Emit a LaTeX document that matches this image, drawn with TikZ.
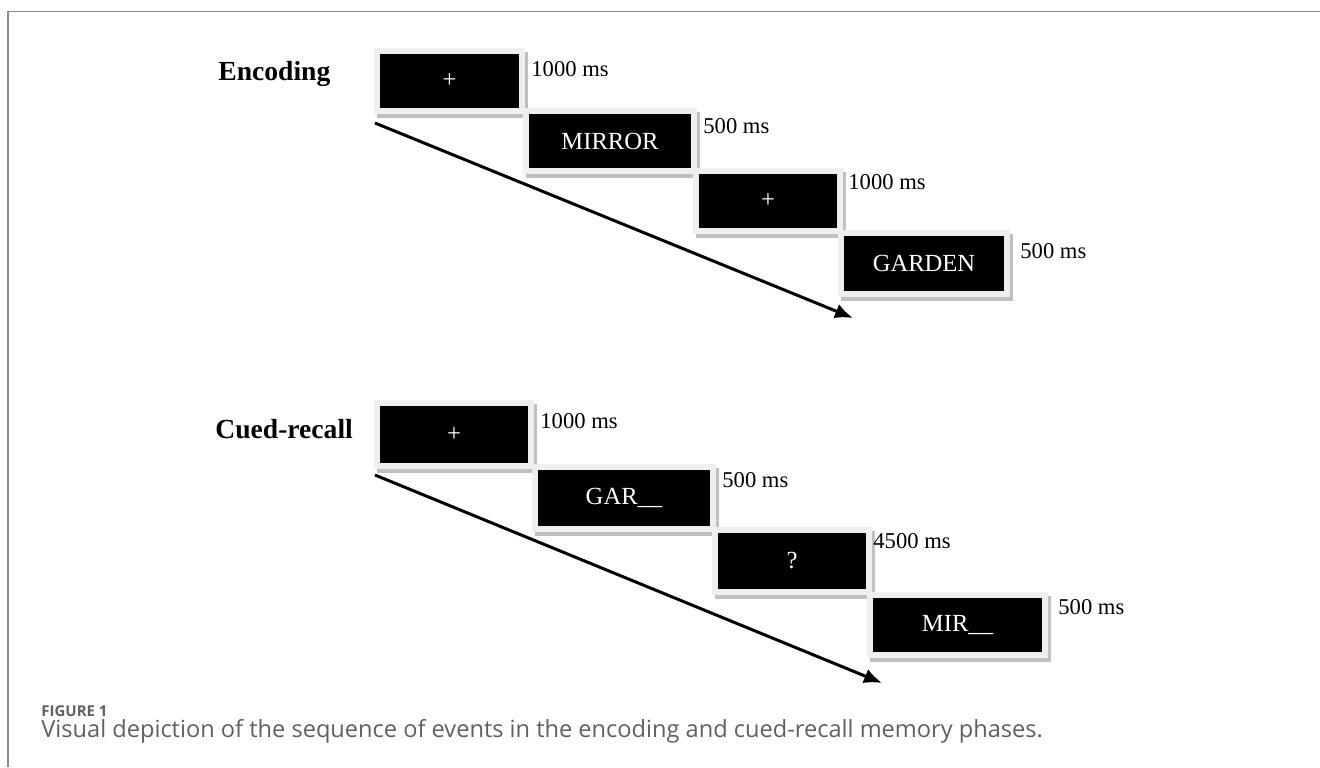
\documentclass[tikz,border=0pt]{standalone}
\usepackage{fontspec}
\setmainfont{Liberation Serif}
\newfontfamily\capfont{Open Sans}
\usetikzlibrary{positioning,arrows.meta,shadows}

\definecolor{framegray}{HTML}{EFEFEF}
\definecolor{shadowgray}{HTML}{C0C0C0}
\definecolor{rulegray}{HTML}{8A8A8A}
\definecolor{captext}{HTML}{606060}

\begin{document}
\begin{tikzpicture}[
  x=0.5pt, y=-0.5pt,
  screen/.style={rectangle, fill=black, draw=framegray, line width=3pt, text=white,
    inner sep=0pt, font=\fontsize{12.3}{14}\selectfont,
    drop shadow={shadow xshift=1.5pt, shadow yshift=-2pt, fill=shadowgray, draw=shadowgray, opacity=1}},
  dur/.style={anchor=west, inner sep=0pt, font=\fontsize{11.3}{13}\selectfont},
  phase/.style={anchor=base west, inner sep=0pt, font=\fontsize{13.8}{16}\selectfont\bfseries},
  timeline/.style={line width=1.5pt, -{Latex[length=9pt,width=7.5pt]}}
]
\useasboundingbox (0,0) rectangle (1320,767);
\draw[rulegray, line width=0.6pt] (8,767) -- (8,11.5) -- (1320,11.5);

% encoding phase
\node[phase] (enc) at (218,80) {Encoding};
\node[screen, minimum width=72.5pt, minimum height=30pt] (e1) at (449.5,81) {+};
\node[screen, minimum width=84pt, minimum height=30pt] (e2) at (610,141) {MIRROR};
\node[screen, minimum width=72pt, minimum height=30pt] (e3) at (768,201) {+};
\node[screen, minimum width=83pt, minimum height=30.5pt] (e4) at (924,263.5) {GARDEN};
\node[dur] (de1) at (531,69) {1000 ms};
\node[dur] (de2) at (703,126) {500 ms};
\node[dur] (de3) at (848,182) {1000 ms};
\node[dur] (de4) at (1020,251) {500 ms};
\coordinate (eend) at (853,318);
\draw[timeline] ([shift={(1,9)}]e1.south west) -- (eend);

% cued-recall phase
\node[phase] (cue) at (215,438) {Cued-recall};
\node[screen, minimum width=77pt, minimum height=31.5pt] (c1) at (454,434.5) {+};
\node[screen, minimum width=89pt, minimum height=31pt] (c2) at (624,498) {GAR\_\_};
\node[screen, minimum width=77pt, minimum height=31pt] (c3) at (792,561) {?};
\node[screen, minimum width=87.5pt, minimum height=30pt] (c4) at (957.5,625) {MIR\_\_};
\node[dur] (dc1) at (540,421) {1000 ms};
\node[dur] (dc2) at (722,480) {500 ms};
\node[dur] (dc3) at (873,541) {4500 ms};
\node[dur] (dc4) at (1058,607) {500 ms};
\coordinate (cend) at (882,683);
\draw[timeline] ([shift={(1,6)}]c1.south west) -- (cend);

% caption
\node[anchor=base west, inner sep=0pt, text=captext, font=\capfont\fontsize{7.5}{9}\selectfont\bfseries] (figlabel) at (41,716) {FIGURE 1};
\node[anchor=base west, inner sep=0pt, text=captext, font=\capfont\fontsize{11.8}{13}\selectfont] (figcaption) at (41,737) {Visual depiction of the sequence of events in the encoding and cued-recall memory phases.};
\end{tikzpicture}
\end{document}
